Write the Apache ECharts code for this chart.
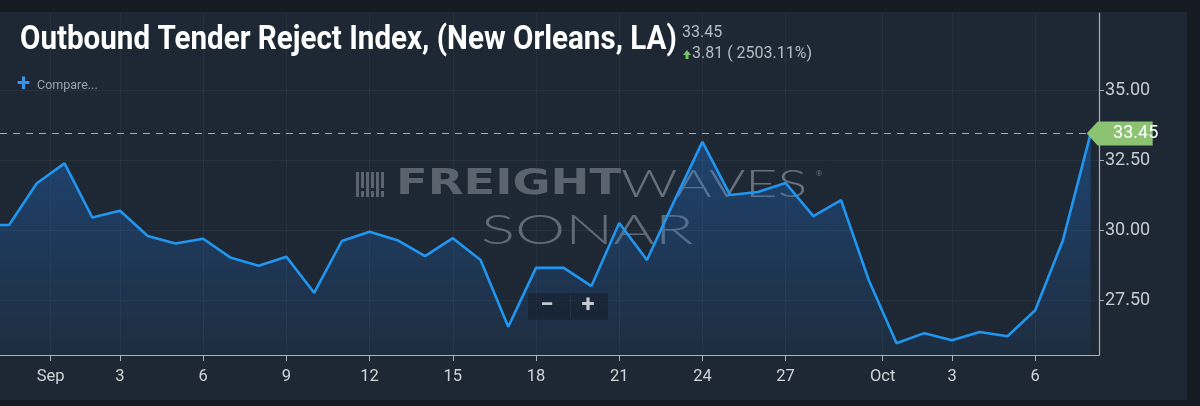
<!DOCTYPE html>
<html>
<head>
<meta charset="utf-8">
<script src="https://cdn.jsdelivr.net/npm/echarts@6/dist/echarts.min.js"></script>
<style>
  html, body { margin:0; padding:0; background:#151b22; width:1200px; height:406px; overflow:hidden; }
  #panel { position:absolute; left:0; top:12px; width:1187px; height:388px; background:#1e2834; }
  #chart { position:absolute; left:0; top:0; width:1200px; height:406px; }
</style>
</head>
<body>
<div id="panel"></div>
<div id="chart"></div>
<script>
// ---- data ----
const dates = [
  '2023-08-29','2023-08-30','2023-08-31',
  '2023-09-01','2023-09-02','2023-09-03','2023-09-04','2023-09-05','2023-09-06','2023-09-07','2023-09-08','2023-09-09','2023-09-10',
  '2023-09-11','2023-09-12','2023-09-13','2023-09-14','2023-09-15','2023-09-16','2023-09-17','2023-09-18','2023-09-19','2023-09-20',
  '2023-09-21','2023-09-22','2023-09-23','2023-09-24','2023-09-25','2023-09-26','2023-09-27','2023-09-28','2023-09-29','2023-09-30',
  '2023-10-01','2023-10-02','2023-10-03','2023-10-04','2023-10-05','2023-10-06','2023-10-07','2023-10-08'
];
const values = [
  30.18, 30.18, 31.67,
  32.38, 30.45, 30.69, 29.79, 29.52, 29.69, 29.01, 28.73, 29.05, 27.76,
  29.61, 29.94, 29.64, 29.07, 29.71, 28.93, 26.55, 28.65, 28.65, 28.00,
  30.25, 28.93, 31.07, 33.15, 31.25, 31.36, 31.68, 30.50, 31.07, 28.21,
  25.96, 26.32, 26.07, 26.36, 26.21, 27.14, 29.64, 33.45
];
const tickDates = ['2023-09-01','2023-09-03','2023-09-06','2023-09-09','2023-09-12','2023-09-15','2023-09-18',
                   '2023-09-21','2023-09-24','2023-09-27','2023-10-01','2023-10-03','2023-10-06'];
const monthNames = ['Jan','Feb','Mar','Apr','May','Jun','Jul','Aug','Sep','Oct','Nov','Dec'];
const yTicks = [27.5, 30, 32.5, 35];
const lastValue = 33.45;
const titleText = 'Outbound Tender Reject Index, (New Orleans, LA)';
const headerValue = '33.45';
const headerChange = '3.81 ( 2503.11%)';

// ---- helpers ----
const origin = Date.UTC(2023, 7, 31);
function dayIndex(s) {
  const p = s.split('-').map(Number);
  return (Date.UTC(p[0], p[1] - 1, p[2]) - origin) / 864e5;
}
const seriesData = dates.map((d, i) => [dayIndex(d), values[i]]);
const tickInfo = tickDates.map(s => {
  const p = s.split('-').map(Number);
  const isMonth = p[2] === 1;
  return { v: dayIndex(s) - (isMonth ? 0.5 : 0), label: isMonth ? monthNames[p[1] - 1] : String(p[2]) };
});
const tickValues = tickInfo.map(t => t.v);
function tickLabel(v) {
  let best = tickInfo[0], bd = Infinity;
  tickInfo.forEach(t => { const d = Math.abs(t.v - v); if (d < bd) { bd = d; best = t; } });
  return best.label;
}
const lastX = seriesData[seriesData.length - 1][0];

const chart = echarts.init(document.getElementById('chart'), null, { renderer: 'canvas' });

const wm = '#5b646e';
const logoBars = [];
[0,1,2,3,4,5].forEach(i => {
  logoBars.push({ type:'rect', z: 1, shape:{ x: 356 + i*5, y: 172, width: 3, height: i % 2 ? 16 : 25 }, style:{ fill: wm } });
  if (i % 2) logoBars.push({ type:'rect', z: 1, shape:{ x: 356 + i*5, y: 191, width: 3, height: 6 }, style:{ fill: wm } });
});

const option = {
  backgroundColor: 'transparent',
  animation: false,
  grid: { left: 0, right: 101, top: 13, bottom: 51, containLabel: false },
  xAxis: {
    type: 'value',
    min: -1.327, max: 38.3,
    axisLine: { show: true, onZero: false, lineStyle: { color: '#a9b1b9', width: 1.2 } },
    axisTick: { show: true, length: 6, customValues: tickValues, lineStyle: { color: '#a9b1b9' } },
    axisLabel: { show: true, customValues: tickValues, formatter: v => tickLabel(v),
                 color: '#d0d5da', fontSize: 16.5, fontFamily: 'Roboto', margin: 13 },
    splitLine: { show: true, lineStyle: { color: 'rgba(255,255,255,0.045)', width: 1 } }
  },
  yAxis: {
    type: 'value', position: 'right',
    min: 25.54, max: 37.75,
    axisLine: { show: true, onZero: false, lineStyle: { color: '#a9b1b9', width: 1.2 } },
    axisTick: { show: true, length: 5, customValues: yTicks, lineStyle: { color: '#a9b1b9' } },
    axisLabel: { show: true, customValues: yTicks, formatter: v => v.toFixed(2),
                 color: '#c6ccd2', fontSize: 18, fontFamily: 'Roboto', margin: 6 },
    splitLine: { show: true, lineStyle: { color: 'rgba(255,255,255,0.045)', width: 1 } }
  },
  series: [{
    type: 'line',
    data: seriesData,
    symbol: 'none',
    z: 3,
    lineStyle: { color: '#2196f0', width: 2.6 },
    areaStyle: {
      color: new echarts.graphic.LinearGradient(0, 0, 0, 1, [
        { offset: 0, color: 'rgba(33,120,225,0.50)' },
        { offset: 1, color: 'rgba(33,120,225,0.10)' }
      ])
    },
    markLine: {
      silent: true, symbol: ['none', 'none'],
      label: { show: false },
      lineStyle: { color: '#a3aeac', type: [7, 6], width: 1.2 },
      data: [{ yAxis: lastValue }]
    },
    markPoint: {
      silent: true,
      symbol: 'path://M0,12 L11,0 L66,0 L66,24 L11,24 Z',
      symbolSize: [66, 24],
      symbolOffset: [29, 0],
      itemStyle: { color: '#8cc373' },
      label: { show: true, position: 'inside', offset: [16, 0], color: '#ffffff', fontSize: 18, fontFamily: 'Roboto',
               formatter: () => lastValue.toFixed(2) },
      data: [{ coord: [lastX, lastValue] }]
    }
  }],
  graphic: [
    // title
    { type: 'text', z: 20, x: 20, y: 40, scaleX: 0.87, originX: 0,
      style: { text: titleText, font: 'bold 34px Roboto', fill: '#ffffff', verticalAlign: 'middle' } },
    { type: 'text', z: 20, x: 682, y: 33,
      style: { text: headerValue, font: '16px Roboto', fill: '#b4bcc4', verticalAlign: 'middle' } },
    { type: 'polygon', z: 20, shape: { points: [[683,55],[687,50],[691,55],[688.5,55],[688.5,59],[685.5,59],[685.5,55]] },
      style: { fill: '#79c263' } },
    { type: 'text', z: 20, x: 692, y: 54,
      style: { text: headerChange, font: '16px Roboto', fill: '#b4bcc4', verticalAlign: 'middle' } },
    { type: 'text', z: 20, x: 17, y: 85,
      style: { text: '+', font: 'bold 24px Roboto', fill: '#3d8fe8', verticalAlign: 'middle' } },
    { type: 'text', z: 20, x: 37, y: 86,
      style: { text: 'Compare...', font: '12.5px Roboto', fill: '#9aa4ae', verticalAlign: 'middle' } },
    // watermark
    ...logoBars,
    { type: 'text', z: 1, x: 396, y: 185, scaleX: 1.29, originX: 0,
      style: { text: 'FREIGHT', font: 'bold 36px "DejaVu Sans"', fill: wm, verticalAlign: 'middle' } },
    { type: 'text', z: 1, x: 621, y: 185, scaleX: 1.5, originX: 0,
      style: { text: 'WAVES', font: '300 37px Lato', fill: '#68717b', verticalAlign: 'middle' } },
    { type: 'text', z: 1, x: 816, y: 174,
      style: { text: '®', font: '8px Roboto', fill: '#646d77', verticalAlign: 'middle' } },
    { type: 'text', z: 1, x: 481, y: 231, scaleX: 1.55, originX: 0,
      style: { text: 'SONAR', font: '300 41px Lato', fill: '#626b75', verticalAlign: 'middle' } },
    // zoom buttons
    { type: 'rect', z: 20, shape: { x: 528, y: 293, width: 80, height: 27 }, style: { fill: 'rgba(22,30,40,0.55)' } },
    { type: 'rect', z: 21, shape: { x: 570, y: 295, width: 1, height: 23 }, style: { fill: 'rgba(255,255,255,0.07)' } },
    { type: 'text', z: 21, x: 547, y: 306,
      style: { text: '−', font: 'bold 24px Roboto', fill: '#c5cbd1', align: 'center', verticalAlign: 'middle' } },
    { type: 'text', z: 21, x: 588, y: 306,
      style: { text: '+', font: 'bold 24px Roboto', fill: '#c5cbd1', align: 'center', verticalAlign: 'middle' } }
  ]
};
chart.setOption(option);
</script>
</body>
</html>
